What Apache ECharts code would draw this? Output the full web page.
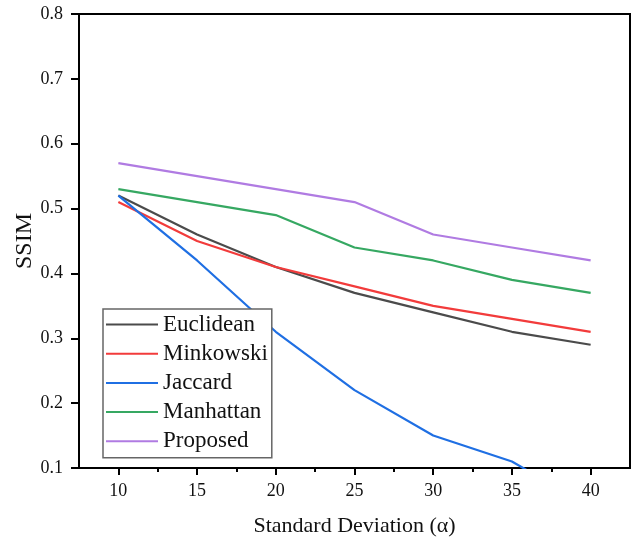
<!DOCTYPE html>
<html>
<head>
<meta charset="utf-8">
<script src="https://cdn.jsdelivr.net/npm/echarts@6/dist/echarts.min.js"></script>
<style>
  html, body { margin: 0; padding: 0; background: #fff; }
  #chart { width: 635px; height: 544px; }
</style>
</head>
<body>
<div id="chart"></div>
<script>
// Noise level (standard deviation) on the x axis, SSIM per distance measure
const sigma = [10, 15, 20, 25, 30, 35, 40];
const euclidean = [0.52, 0.46, 0.41, 0.37, 0.34, 0.31, 0.29];
const minkowski = [0.51, 0.45, 0.41, 0.38, 0.35, 0.33, 0.31];
const jaccard   = [0.52, 0.42, 0.31, 0.22, 0.15, 0.11, 0.04];
const manhattan = [0.53, 0.51, 0.49, 0.44, 0.42, 0.39, 0.37];
const proposed  = [0.57, 0.55, 0.53, 0.51, 0.46, 0.44, 0.42];

const xMajor = [10, 15, 20, 25, 30, 35, 40];
const xMinor = [12.5, 17.5, 22.5, 27.5, 32.5, 37.5];

const FONT = "'Liberation Serif', 'Times New Roman', serif";

const seriesDefs = [
  { name: 'Euclidean', values: euclidean, color: '#4b4b4b' },
  { name: 'Minkowski', values: minkowski, color: '#f23b3b' },
  { name: 'Jaccard',   values: jaccard,   color: '#1f6fe3' },
  { name: 'Manhattan', values: manhattan, color: '#36a862' },
  { name: 'Proposed',  values: proposed,  color: '#b07be2' }
];

const chart = echarts.init(document.getElementById('chart'), null, { renderer: 'canvas' });

chart.setOption({
  animation: false,
  backgroundColor: '#fff',
  textStyle: { fontFamily: FONT },
  grid: {
    left: 79, right: 5, top: 14, bottom: 76,
    show: true, borderColor: '#000', borderWidth: 2
  },
  legend: {
    orient: 'vertical',
    left: 103, top: 309,
    padding: [4, 4, 5, 3],
    itemWidth: 52, itemHeight: 2, itemGap: 6.2,
    icon: 'rect',
    backgroundColor: '#fff',
    borderColor: '#666', borderWidth: 1.5,
    textStyle: { fontFamily: FONT, fontSize: 23, color: '#111', lineHeight: 22 },
    data: seriesDefs.map(s => s.name)
  },
  xAxis: [
    {
      type: 'value', min: 7.5, max: 42.5,
      name: 'Standard Deviation (\u03b1)',
      nameLocation: 'middle', nameGap: 47, nameMoveOverlap: false,
      nameTextStyle: { fontFamily: FONT, fontSize: 22, color: '#111' },
      axisLine: { show: true, lineStyle: { color: '#000', width: 2 } },
      axisTick: { show: true, length: 7, inside: false, customValues: xMajor,
                  lineStyle: { color: '#000', width: 2 } },
      axisLabel: { show: true, customValues: xMajor, margin: 14,
                   fontFamily: FONT, fontSize: 18, color: '#111' },
      splitLine: { show: false }
    },
    {
      // minor ticks halfway between the labelled values
      type: 'value', min: 7.5, max: 42.5, position: 'bottom', offset: 0,
      axisLine: { show: false },
      axisTick: { show: true, length: 4, inside: false, customValues: xMinor,
                  lineStyle: { color: '#000', width: 2 } },
      axisLabel: { show: false },
      splitLine: { show: false }
    }
  ],
  yAxis: {
    type: 'value', min: 0.1, max: 0.8, interval: 0.1,
    name: 'SSIM',
    nameLocation: 'middle', nameGap: 42, nameMoveOverlap: false,
    nameTextStyle: { fontFamily: FONT, fontSize: 24, color: '#111' },
    axisLine: { show: true, lineStyle: { color: '#000', width: 2 } },
    axisTick: { show: true, length: 8, inside: false, lineStyle: { color: '#000', width: 2 } },
    axisLabel: { margin: 16, fontFamily: FONT, fontSize: 18, color: '#111',
                 formatter: v => v.toFixed(1) },
    splitLine: { show: false }
  },
  series: seriesDefs.map(s => ({
    name: s.name,
    type: 'line',
    xAxisIndex: 0,
    symbol: 'none',
    clip: true,
    color: s.color,
    lineStyle: { color: s.color, width: 2.2 },
    data: sigma.map((x, i) => [x, s.values[i]])
  }))
});
</script>
</body>
</html>
